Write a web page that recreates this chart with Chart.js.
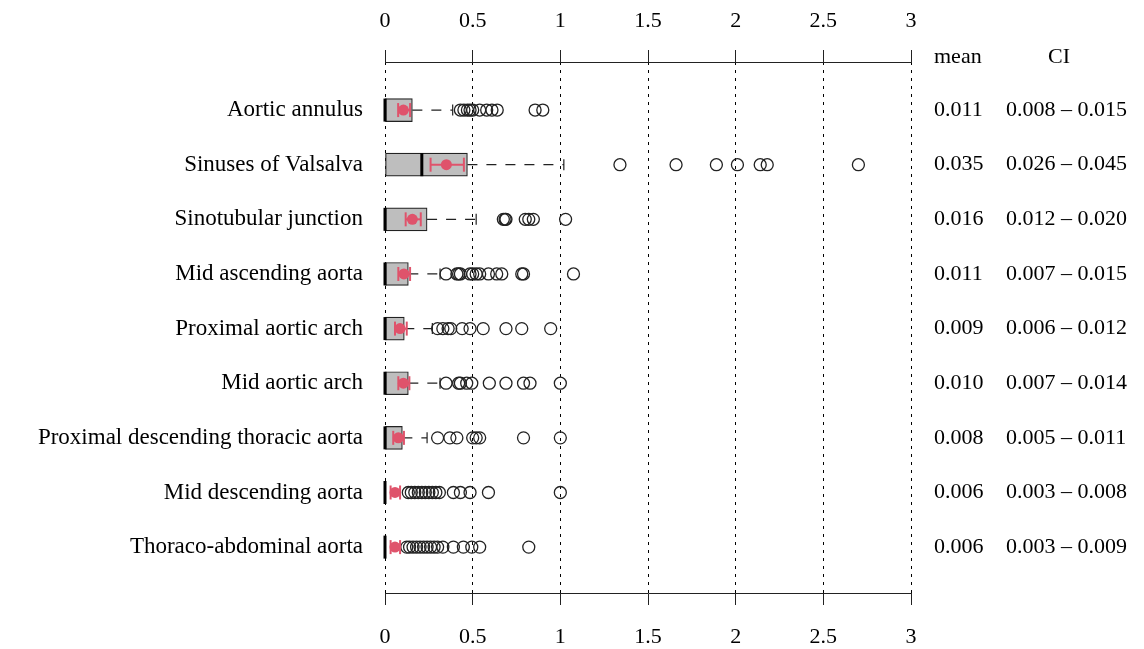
<!DOCTYPE html>
<html>
<head>
<meta charset="utf-8">
<script src="https://cdn.jsdelivr.net/npm/chart.js@4.4.1/dist/chart.umd.min.js"></script>
<style>
  html, body { margin: 0; padding: 0; background: #fff; }
  #wrap { width: 1144px; height: 649px; position: relative; }
</style>
</head>
<body>
<div id="wrap"><canvas id="myChart"></canvas></div>
<script>
// categories, top to bottom
const categories = [
  "Aortic annulus",
  "Sinuses of Valsalva",
  "Sinotubular junction",
  "Mid ascending aorta",
  "Proximal aortic arch",
  "Mid aortic arch",
  "Proximal descending thoracic aorta",
  "Mid descending aorta",
  "Thoraco-abdominal aorta"
];

// box plot values
const q1 = [0, 0, 0, 0, 0, 0, 0, 0, 0];
const median = [0, 0.21, 0, 0, 0, 0, 0, 0, 0];
const q3 = [0.156, 0.47, 0.24, 0.133, 0.11, 0.133, 0.099, 0, 0];
const whiskerHi = [0.386, 1.02, 0.52, 0.314, 0.27, 0.314, 0.24, 0, 0];

const outliers = [
  [0.43, 0.45, 0.47, 0.485, 0.50, 0.54, 0.58, 0.61, 0.64, 0.856, 0.90],
  [1.34, 1.66, 1.89, 2.01, 2.14, 2.18, 2.70],
  [0.675, 0.685, 0.69, 0.80, 0.82, 0.846, 1.03],
  [0.348, 0.41, 0.42, 0.43, 0.485, 0.50, 0.52, 0.54, 0.59, 0.637, 0.666, 0.78, 0.79, 1.075],
  [0.30, 0.33, 0.36, 0.375, 0.44, 0.485, 0.56, 0.69, 0.78, 0.945],
  [0.348, 0.42, 0.43, 0.466, 0.495, 0.595, 0.69, 0.79, 0.827, 1.0],
  [0.30, 0.37, 0.41, 0.50, 0.52, 0.54, 0.79, 1.0],
  [0.133, 0.15, 0.17, 0.19, 0.21, 0.23, 0.25, 0.27, 0.29, 0.31, 0.39, 0.43, 0.485, 0.59, 1.0],
  [0.124, 0.14, 0.16, 0.18, 0.20, 0.22, 0.24, 0.26, 0.28, 0.30, 0.33, 0.39, 0.447, 0.495, 0.54, 0.82]
];

// mean with confidence interval (red marks)
const meanVal = [0.105, 0.35, 0.156, 0.108, 0.086, 0.105, 0.076, 0.057, 0.057];
const ciLo = [0.075, 0.26, 0.118, 0.076, 0.057, 0.076, 0.047, 0.032, 0.032];
const ciHi = [0.143, 0.45, 0.204, 0.143, 0.124, 0.139, 0.108, 0.086, 0.086];

// right-hand text columns
const meanText = ["0.011", "0.035", "0.016", "0.011", "0.009", "0.010", "0.008", "0.006", "0.006"];
const ciText = [
  "0.008 \u2013 0.015", "0.026 \u2013 0.045", "0.012 \u2013 0.020",
  "0.007 \u2013 0.015", "0.006 \u2013 0.012", "0.007 \u2013 0.014",
  "0.005 \u2013 0.011", "0.003 \u2013 0.008", "0.003 \u2013 0.009"
];

const xTicks = [0, 0.5, 1, 1.5, 2, 2.5, 3];

const FONT = "'Liberation Serif', 'DejaVu Serif', serif";
const FS = 22;
const RED = "#DF536B";
const INK = "#222";

const rowY = categories.map((c, i) => i + 1);

// build datasets
const datasets = [];

// mean dots
datasets.push({
  type: "scatter", order: 0, clip: false,
  data: rowY.map((y, i) => ({ x: meanVal[i], y: y })),
  pointStyle: "circle", pointRadius: 5.5,
  backgroundColor: RED, borderColor: RED, borderWidth: 0
});
// CI caps
datasets.push({
  type: "scatter", order: 1, clip: false,
  data: rowY.flatMap((y, i) => [{ x: ciLo[i], y: y }, { x: ciHi[i], y: y }]),
  pointStyle: "line", rotation: 90, pointRadius: 7,
  borderColor: RED, borderWidth: 2
});
// CI lines
rowY.forEach((y, i) => {
  datasets.push({
    type: "line", order: 1, clip: false,
    data: [{ x: ciLo[i], y: y }, { x: ciHi[i], y: y }],
    borderColor: RED, borderWidth: 2, pointRadius: 0, fill: false
  });
});
// outliers
datasets.push({
  type: "scatter", order: 2, clip: false,
  data: rowY.flatMap((y, i) => outliers[i].map(v => ({ x: v, y: y }))),
  pointStyle: "circle", pointRadius: 6,
  backgroundColor: "rgba(0,0,0,0)", borderColor: INK, borderWidth: 1.3
});
// whiskers + caps
rowY.forEach((y, i) => {
  if (whiskerHi[i] <= q3[i]) return;
  datasets.push({
    type: "line", order: 3, clip: false,
    data: [{ x: q3[i], y: y }, { x: whiskerHi[i], y: y }],
    borderColor: INK, borderWidth: 1.2, borderDash: [10, 9],
    pointRadius: 0, fill: false
  });
});
datasets.push({
  type: "scatter", order: 3, clip: false,
  data: rowY.filter((y, i) => whiskerHi[i] > q3[i]).map(y => ({ x: whiskerHi[y - 1], y: y })),
  pointStyle: "line", rotation: 90, pointRadius: 5.5,
  borderColor: INK, borderWidth: 1.2
});
// medians
datasets.push({
  type: "scatter", order: 4, clip: false,
  data: rowY.map((y, i) => ({ x: median[i], y: y })),
  pointStyle: "line", rotation: 90, pointRadius: 11.5,
  borderColor: "#000", borderWidth: 3
});
// boxes
datasets.push({
  type: "bar", order: 5, indexAxis: "y", clip: false,
  data: rowY.map((y, i) => ({ x: [q1[i], q3[i]], y: y })),
  backgroundColor: "#BEBEBE", borderColor: INK, borderWidth: 1.2,
  borderSkipped: false, barThickness: 23
});

const yCommon = {
  type: "linear", min: 0.12, max: 9.84, reverse: true, offset: false,
  grid: { display: false, drawTicks: false, offset: false },
  border: { display: false },
  afterBuildTicks: (s) => { s.ticks = rowY.map(v => ({ value: v })); }
};

const headerPlugin = {
  id: "headers",
  afterDraw(chart) {
    const ctx = chart.ctx;
    const ys = chart.scales.y;
    const m = chart.scales.yMean;
    const c = chart.scales.yCI;
    const py = ys.getPixelForValue(0.03);
    ctx.save();
    ctx.font = FS + "px " + FONT;
    ctx.fillStyle = "#000";
    ctx.textBaseline = "middle";
    ctx.textAlign = "left";
    ctx.fillText("mean", m.left + 23, py);
    ctx.textAlign = "center";
    ctx.fillText("CI", c.left + 73, py);
    ctx.restore();
  }
};

const xLabel = (v) => String(v);

new Chart(document.getElementById("myChart"), {
  type: "scatter",
  data: { datasets: datasets },
  plugins: [headerPlugin],
  options: {
    responsive: true,
    maintainAspectRatio: false,
    animation: false,
    events: [],
    layout: { padding: 0 },
    plugins: { legend: { display: false }, tooltip: { enabled: false } },
    scales: {
      x: {
        type: "linear", position: "bottom", min: 0, max: 3,
        afterBuildTicks: (s) => { s.ticks = xTicks.map(v => ({ value: v })); },
        grid: { color: "#000", lineWidth: 1, drawTicks: true, tickLength: 12, tickColor: INK, tickWidth: 1 },
        border: { display: true, color: INK, width: 1, dash: [3, 5] },
        ticks: { color: "#000", font: { family: FONT, size: FS }, padding: 19, maxRotation: 0, callback: xLabel },
        afterFit: (s) => { s.height = 56; }
      },
      x2: {
        type: "linear", position: "top", min: 0, max: 3,
        afterBuildTicks: (s) => { s.ticks = xTicks.map(v => ({ value: v })); },
        grid: { drawOnChartArea: false, drawTicks: true, tickLength: 12, tickColor: INK, tickWidth: 1 },
        border: { display: true, color: INK, width: 1 },
        ticks: { color: "#000", font: { family: FONT, size: FS }, padding: 16, maxRotation: 0, callback: xLabel },
        afterFit: (s) => { s.height = 62; }
      },
      y: Object.assign({}, yCommon, {
        position: "left",
        ticks: { color: "#000", font: { family: FONT, size: 23 }, padding: 22, autoSkip: false,
          callback: (v) => categories[v - 1] },
        afterFit: (s) => { s.width = 385; }
      }),
      yMean: Object.assign({}, yCommon, {
        position: "right",
        ticks: { color: "#000", font: { family: FONT, size: FS }, padding: 23, autoSkip: false,
          callback: (v) => meanText[v - 1] },
        afterFit: (s) => { s.width = 75; }
      }),
      yCI: Object.assign({}, yCommon, {
        position: "right",
        ticks: { color: "#000", font: { family: FONT, size: FS }, padding: 20, autoSkip: false,
          callback: (v) => ciText[v - 1] },
        afterFit: (s) => { s.width = 158; }
      })
    }
  }
});
</script>
</body>
</html>
